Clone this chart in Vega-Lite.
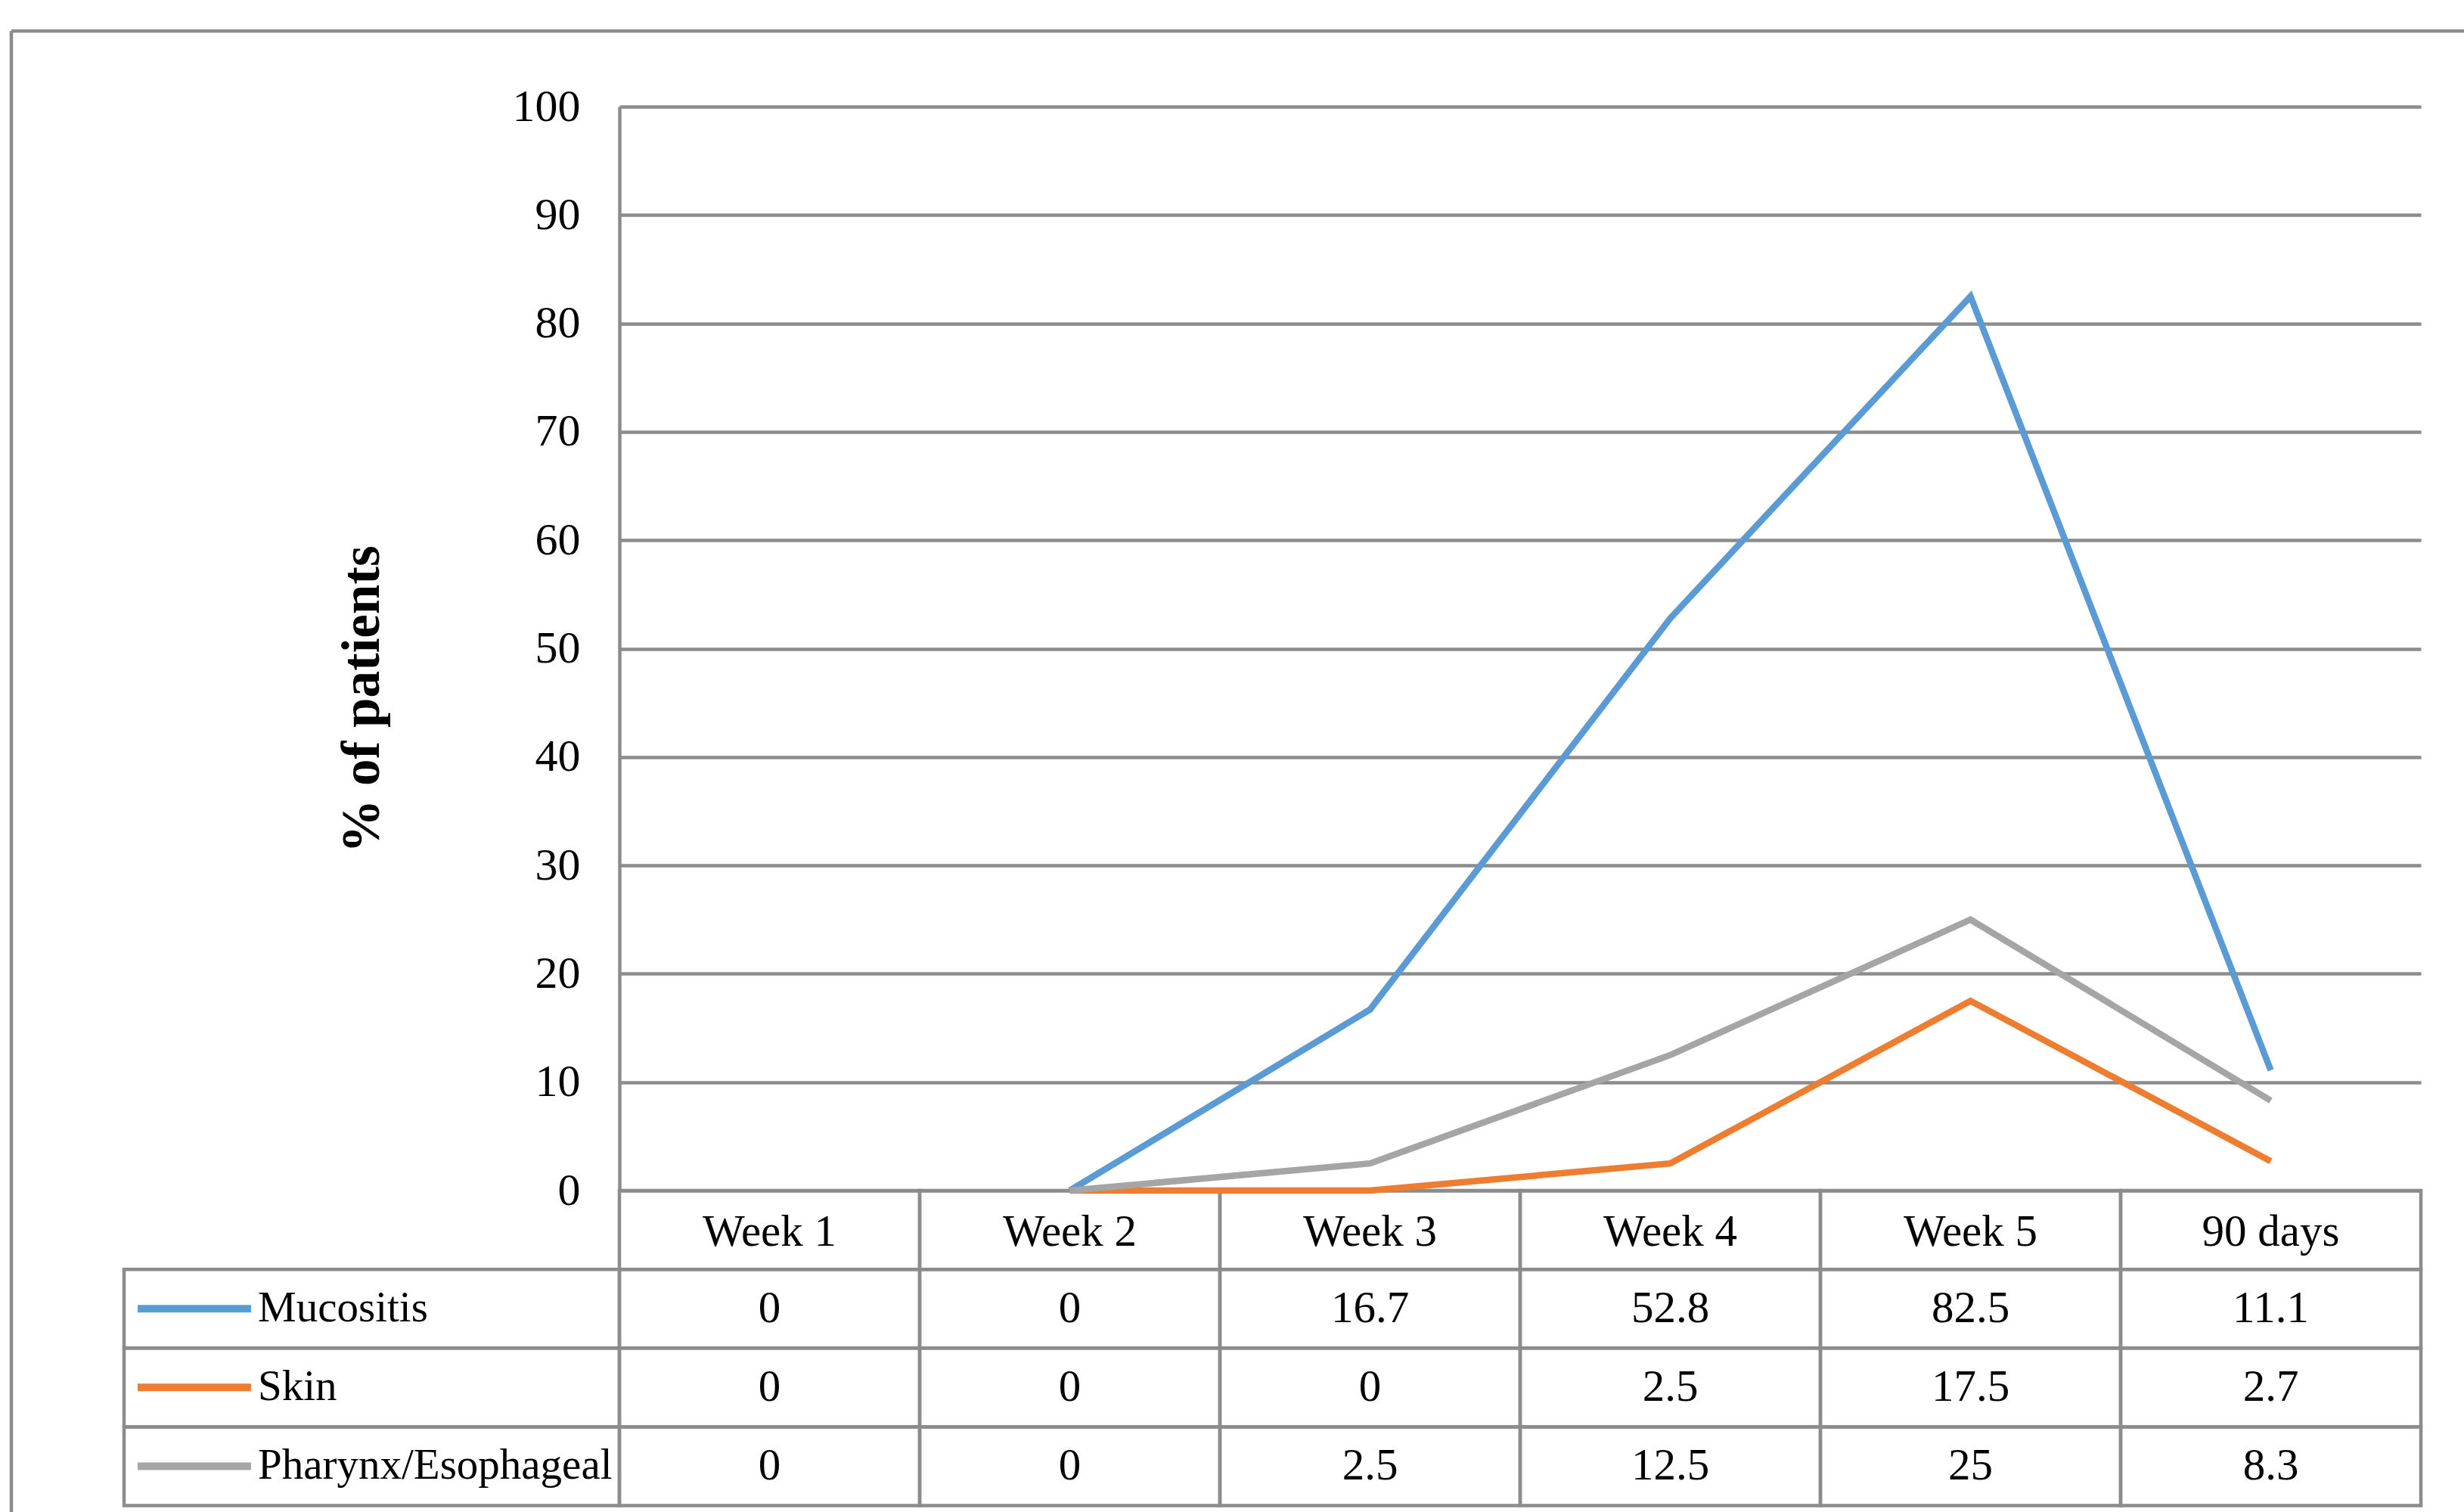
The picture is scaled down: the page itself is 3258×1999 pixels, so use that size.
{
  "$schema": "https://vega.github.io/schema/vega-lite/v6.json",
  "width": 3243,
  "height": 1958,
  "autosize": {"type": "none"},
  "padding": {"left": 15, "top": 41, "right": 0, "bottom": 0},
  "background": "white",
  "config": {"view": {"stroke": null}, "font": "Liberation Serif"},
  "datasets": {
    "vals": [
      {"series": "Mucositis", "week": "Week 1", "value": 0},
      {"series": "Mucositis", "week": "Week 2", "value": 0},
      {"series": "Mucositis", "week": "Week 3", "value": 16.7},
      {"series": "Mucositis", "week": "Week 4", "value": 52.8},
      {"series": "Mucositis", "week": "Week 5", "value": 82.5},
      {"series": "Mucositis", "week": "90 days", "value": 11.1},
      {"series": "Skin", "week": "Week 1", "value": 0},
      {"series": "Skin", "week": "Week 2", "value": 0},
      {"series": "Skin", "week": "Week 3", "value": 0},
      {"series": "Skin", "week": "Week 4", "value": 2.5},
      {"series": "Skin", "week": "Week 5", "value": 17.5},
      {"series": "Skin", "week": "90 days", "value": 2.7},
      {"series": "Pharynx/Esophageal", "week": "Week 1", "value": 0},
      {"series": "Pharynx/Esophageal", "week": "Week 2", "value": 0},
      {"series": "Pharynx/Esophageal", "week": "Week 3", "value": 2.5},
      {"series": "Pharynx/Esophageal", "week": "Week 4", "value": 12.5},
      {"series": "Pharynx/Esophageal", "week": "Week 5", "value": 25},
      {"series": "Pharynx/Esophageal", "week": "90 days", "value": 8.3}
    ],
    "weeks": [
      {"week": "Week 1"}, {"week": "Week 2"}, {"week": "Week 3"},
      {"week": "Week 4"}, {"week": "Week 5"}, {"week": "90 days"}
    ],
    "series": [
      {"series": "Mucositis"}, {"series": "Skin"}, {"series": "Pharynx/Esophageal"}
    ]
  },
  "resolve": {"scale": {"x": "independent", "y": "independent"}},
  "layer": [
    {
      "data": {"values": [{}]},
      "mark": {"type": "rule", "stroke": "#8c8c8c", "strokeWidth": 4.5},
      "encoding": {
        "y": {"datum": 0, "type": "quantitative", "scale": {"domain": [0, 1], "range": [0, 1958], "nice": false, "zero": false}, "axis": null}
      }
    },
    {
      "data": {"values": [{}]},
      "mark": {"type": "rule", "stroke": "#8c8c8c", "strokeWidth": 4.5},
      "encoding": {
        "x": {"datum": 0, "type": "quantitative", "scale": {"domain": [0, 1], "range": [0, 3243], "nice": false, "zero": false}, "axis": null}
      }
    },
    {
      "data": {"name": "vals"},
      "mark": {"type": "rect", "fill": "white", "fillOpacity": 0, "stroke": "#8c8c8c", "strokeWidth": 4.5},
      "encoding": {
        "x": {"field": "week", "type": "nominal", "scale": {"type": "band", "domain": ["Week 1", "Week 2", "Week 3", "Week 4", "Week 5", "90 days"], "range": [804, 3186], "paddingInner": 0, "paddingOuter": 0}, "axis": null},
        "y": {"field": "series", "type": "nominal", "scale": {"type": "band", "domain": ["hdr", "Mucositis", "Skin", "Pharynx/Esophageal"], "range": [1533, 1949.5], "paddingInner": 0, "paddingOuter": 0}, "axis": null}
      }
    },
    {
      "data": {"name": "weeks"},
      "mark": {"type": "rect", "fill": "white", "fillOpacity": 0, "stroke": "#8c8c8c", "strokeWidth": 4.5},
      "encoding": {
        "x": {"field": "week", "type": "nominal", "scale": {"type": "band", "domain": ["Week 1", "Week 2", "Week 3", "Week 4", "Week 5", "90 days"], "range": [804, 3186], "paddingInner": 0, "paddingOuter": 0}, "axis": null},
        "y": {"datum": "hdr", "type": "nominal", "scale": {"type": "band", "domain": ["hdr", "Mucositis", "Skin", "Pharynx/Esophageal"], "range": [1533, 1949.5], "paddingInner": 0, "paddingOuter": 0}, "axis": null}
      }
    },
    {
      "data": {"name": "series"},
      "mark": {"type": "rect", "fill": "white", "fillOpacity": 0, "stroke": "#8c8c8c", "strokeWidth": 4.5},
      "encoding": {
        "x": {"datum": "label", "type": "nominal", "scale": {"type": "band", "domain": ["label"], "range": [149, 804], "paddingInner": 0, "paddingOuter": 0}, "axis": null},
        "y": {"field": "series", "type": "nominal", "scale": {"type": "band", "domain": ["hdr", "Mucositis", "Skin", "Pharynx/Esophageal"], "range": [1533, 1949.5], "paddingInner": 0, "paddingOuter": 0}, "axis": null}
      }
    },
    {
      "data": {"name": "vals"},
      "mark": {"type": "text", "font": "Liberation Serif", "fontSize": 59, "color": "#000000", "align": "center", "baseline": "middle"},
      "encoding": {
        "x": {"field": "week", "type": "nominal", "bandPosition": 0.5, "scale": {"type": "band", "domain": ["Week 1", "Week 2", "Week 3", "Week 4", "Week 5", "90 days"], "range": [804, 3186], "paddingInner": 0, "paddingOuter": 0}, "axis": null},
        "y": {"field": "series", "type": "nominal", "bandPosition": 0.5, "scale": {"type": "band", "domain": ["hdr", "Mucositis", "Skin", "Pharynx/Esophageal"], "range": [1533, 1949.5], "paddingInner": 0, "paddingOuter": 0}, "axis": null},
        "text": {"field": "value", "type": "nominal"}
      }
    },
    {
      "data": {"name": "weeks"},
      "mark": {"type": "text", "font": "Liberation Serif", "fontSize": 59, "color": "#000000", "align": "center", "baseline": "middle", "dy": 3},
      "encoding": {
        "x": {"field": "week", "type": "nominal", "bandPosition": 0.5, "scale": {"type": "band", "domain": ["Week 1", "Week 2", "Week 3", "Week 4", "Week 5", "90 days"], "range": [804, 3186], "paddingInner": 0, "paddingOuter": 0}, "axis": null},
        "y": {"datum": "hdr", "type": "nominal", "bandPosition": 0.5, "scale": {"type": "band", "domain": ["hdr", "Mucositis", "Skin", "Pharynx/Esophageal"], "range": [1533, 1949.5], "paddingInner": 0, "paddingOuter": 0}, "axis": null},
        "text": {"field": "week", "type": "nominal"}
      }
    },
    {
      "data": {"name": "series"},
      "mark": {"type": "text", "font": "Liberation Serif", "fontSize": 57, "color": "#000000", "align": "left", "baseline": "middle"},
      "encoding": {
        "x": {"datum": "label", "type": "nominal", "bandPosition": 0, "scale": {"type": "band", "domain": ["label"], "range": [326, 804], "paddingInner": 0, "paddingOuter": 0}, "axis": null},
        "y": {"field": "series", "type": "nominal", "bandPosition": 0.5, "scale": {"type": "band", "domain": ["hdr", "Mucositis", "Skin", "Pharynx/Esophageal"], "range": [1533, 1949.5], "paddingInner": 0, "paddingOuter": 0}, "axis": null},
        "text": {"field": "series", "type": "nominal"}
      }
    },
    {
      "data": {"name": "series"},
      "mark": {"type": "rule", "strokeWidth": 10, "strokeCap": "butt"},
      "encoding": {
        "x": {"datum": "s0", "type": "nominal", "scale": {"type": "point", "domain": ["s0", "s1"], "range": [167, 317], "padding": 0}, "axis": null},
        "x2": {"datum": "s1"},
        "y": {"field": "series", "type": "nominal", "bandPosition": 0.5, "scale": {"type": "band", "domain": ["hdr", "Mucositis", "Skin", "Pharynx/Esophageal"], "range": [1533, 1949.5], "paddingInner": 0, "paddingOuter": 0}, "axis": null},
        "color": {"field": "series", "type": "nominal", "scale": {"domain": ["Mucositis", "Skin", "Pharynx/Esophageal"], "range": ["#5B9BD5", "#ED7D31", "#A5A5A5"]}, "legend": null}
      }
    },
    {
      "data": {"name": "vals"},
      "transform": [{"filter": "datum.week !== 'Week 1'"}],
      "mark": {"type": "line", "strokeWidth": 8.5, "strokeJoin": "miter"},
      "encoding": {
        "x": {"field": "week", "type": "nominal", "bandPosition": 0.5, "scale": {"type": "band", "domain": ["Week 1", "Week 2", "Week 3", "Week 4", "Week 5", "90 days"], "range": [804, 3186], "paddingInner": 0, "paddingOuter": 0}, "axis": null},
        "y": {
          "field": "value", "type": "quantitative",
          "scale": {"domain": [0, 100], "range": [1533, 100], "nice": false, "zero": false},
          "axis": {
            "orient": "left", "offset": -804,
            "values": [0, 10, 20, 30, 40, 50, 60, 70, 80, 90, 100],
            "grid": true, "gridColor": "#8c8c8c", "gridWidth": 4.5, "gridOpacity": 1,
            "domain": true, "domainColor": "#8c8c8c", "domainWidth": 4.5,
            "ticks": false, "labelPadding": 52,
            "labelFont": "Liberation Serif", "labelFontSize": 60, "labelColor": "#000000",
            "title": "% of patients", "titleFont": "Liberation Serif", "titleFontSize": 71,
            "titleFontWeight": "bold", "titleColor": "#000000",
            "titleX": -340, "titleY": 883, "titleAngle": -90, "titleAlign": "center", "titleBaseline": "middle"
          }
        },
        "color": {"field": "series", "type": "nominal", "scale": {"domain": ["Mucositis", "Skin", "Pharynx/Esophageal"], "range": ["#5B9BD5", "#ED7D31", "#A5A5A5"]}, "legend": null}
      }
    }
  ]
}
